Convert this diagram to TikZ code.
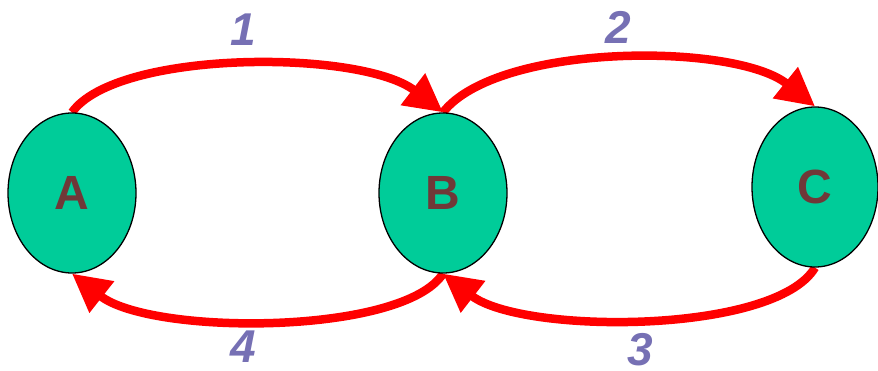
\documentclass[tikz,border=0pt]{standalone}
\usepackage{fontspec}
\setmainfont{Liberation Sans}
\usetikzlibrary{shapes.geometric,arrows.meta}
\pgfdeclarelayer{background}
\pgfsetlayers{background,main}
\definecolor{nodegreen}{RGB}{0,204,153}
\definecolor{letterbrown}{RGB}{112,56,56}
\definecolor{numpurple}{RGB}{118,112,180}
\tikzset{
  state/.style={ellipse, draw=black, line width=1.3pt, fill=nodegreen, inner sep=0pt,
    minimum width=128pt, minimum height=160pt, text=letterbrown,
    font=\fontsize{48pt}{48pt}\selectfont\bfseries},
  flow/.style={draw=red, line width=8.5pt, -{Triangle[length=38pt,width=38pt]}},
  num/.style={text=numpurple, inner sep=0pt, font=\fontsize{46pt}{46pt}\selectfont\bfseries\itshape}
}
\begin{document}
\begin{tikzpicture}[x=1pt,y=1pt]
\useasboundingbox (0,0) rectangle (878,370);
\node[state] (A) at (72,177) {A};
\node[state] (B) at (443,177) {B};
\node[state, minimum width=126pt] (C) at (815,183) {C};
\begin{pgfonlayer}{background}
\draw[flow] (A.north) .. controls +(45,63) and +(-82,63) .. (B.north);
\draw[flow] (B.north) .. controls +(55,70) and +(-80,64) .. (C.north);
\draw[flow] (C.south) .. controls +(-40,-67) and +(79,-61) .. (B.south);
\draw[flow] (B.south) .. controls +(-40,-62) and +(79,-62) .. (A.south);
\end{pgfonlayer}
\node[num] (l1) at (243,340) {1};
\node[num] (l2) at (618,343) {2};
\node[num] (l3) at (640,20) {3};
\node[num] (l4) at (243,23) {4};
\end{tikzpicture}
\end{document}
